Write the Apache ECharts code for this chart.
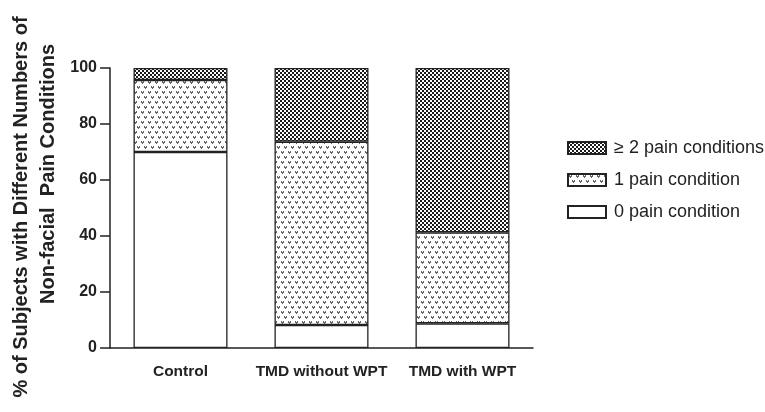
<!DOCTYPE html>
<html><head><meta charset="utf-8">
<script src="https://cdn.jsdelivr.net/npm/echarts@6/dist/echarts.min.js"></script>
<style>html,body{margin:0;padding:0;background:#fff}#c{width:765px;height:412px}</style>
</head><body><div id="c"></div>
<script>
const categories = ['Control', 'TMD without WPT', 'TMD with WPT'];
const zeroPain = [70, 8.2, 8.8];
const onePain = [25.7, 65.5, 32.5];
const twoPlusPain = [4.3, 26.3, 58.7];
const seriesNames = ['0 pain condition', '1 pain condition', '\u2265 2 pain conditions'];
const yTicks = [0, 20, 40, 60, 80, 100];

function checkerPattern() {
  const c = document.createElement('canvas');
  c.width = 4; c.height = 4;
  const g = c.getContext('2d');
  g.fillStyle = '#ffffff'; g.fillRect(0, 0, 4, 4);
  g.fillStyle = '#1a1a1a';
  g.fillRect(0, 0, 2, 2); g.fillRect(2, 2, 2, 2);
  return c;
}
function dotPattern() {
  const c = document.createElement('canvas');
  c.width = 7; c.height = 10;
  const g = c.getContext('2d');
  g.fillStyle = '#ffffff'; g.fillRect(0, 0, 7, 10);
  g.fillStyle = '#666666';
  function heart(x, y) {
    g.fillRect(x, y, 1, 1); g.fillRect(x + 2, y, 1, 1);
    g.fillRect(x, y + 1, 3, 1); g.fillRect(x + 1, y + 2, 1, 1);
  }
  heart(1, 1); heart(4, 6); heart(-3, 6);
  return c;
}

const font = 'Liberation Sans, Arial, sans-serif';
const chart = echarts.init(document.getElementById('c'), null, {renderer: 'canvas'});
const border = {borderColor: '#222', borderWidth: 1.3};
chart.setOption({
  animation: false,
  grid: {left: 110, right: 232, top: 68, bottom: 64},
  legend: {
    orient: 'vertical', left: 567, top: 139, padding: 0, itemWidth: 38, itemHeight: 12, itemGap: 14,
    icon: 'rect',
    data: [seriesNames[2], seriesNames[1], seriesNames[0]],
    textStyle: {fontFamily: font, fontSize: 18, color: '#222', padding: [0, 0, 0, 3]},
    selectedMode: false
  },
  xAxis: {
    type: 'category', data: categories,
    axisLine: {lineStyle: {color: '#222', width: 1.5}},
    axisTick: {show: false},
    axisLabel: {interval: 0, fontFamily: font, fontWeight: 'bold', fontSize: 15.5, color: '#222', margin: 16}
  },
  yAxis: {
    type: 'value', min: yTicks[0], max: yTicks[yTicks.length - 1], interval: 20,
    axisLine: {show: true, lineStyle: {color: '#222', width: 1.5}},
    axisTick: {show: true, length: 10, lineStyle: {color: '#222', width: 1.5}},
    splitLine: {show: false},
    axisLabel: {fontFamily: font, fontWeight: 'bold', fontSize: 16, color: '#222', margin: 13}
  },
  graphic: [
    {type: 'text', x: 21, y: 207, rotation: Math.PI / 2,
     style: {text: '% of Subjects with Different Numbers of', font: 'bold 20px ' + font, fill: '#222', align: 'center', verticalAlign: 'middle'}},
    {type: 'text', x: 48, y: 174, rotation: Math.PI / 2,
     style: {text: 'Non-facial  Pain Conditions', font: 'bold 20px ' + font, fill: '#222', align: 'center', verticalAlign: 'middle'}}
  ],
  series: [
    {name: seriesNames[0], type: 'bar', stack: 's', barWidth: 94, data: zeroPain,
     itemStyle: Object.assign({color: '#ffffff'}, border)},
    {name: seriesNames[1], type: 'bar', stack: 's', barWidth: 94, data: onePain,
     itemStyle: Object.assign({color: {image: dotPattern(), repeat: 'repeat'}}, border)},
    {name: seriesNames[2], type: 'bar', stack: 's', barWidth: 94, data: twoPlusPain,
     itemStyle: Object.assign({color: {image: checkerPattern(), repeat: 'repeat'}}, border)}
  ]
});
</script></body></html>
